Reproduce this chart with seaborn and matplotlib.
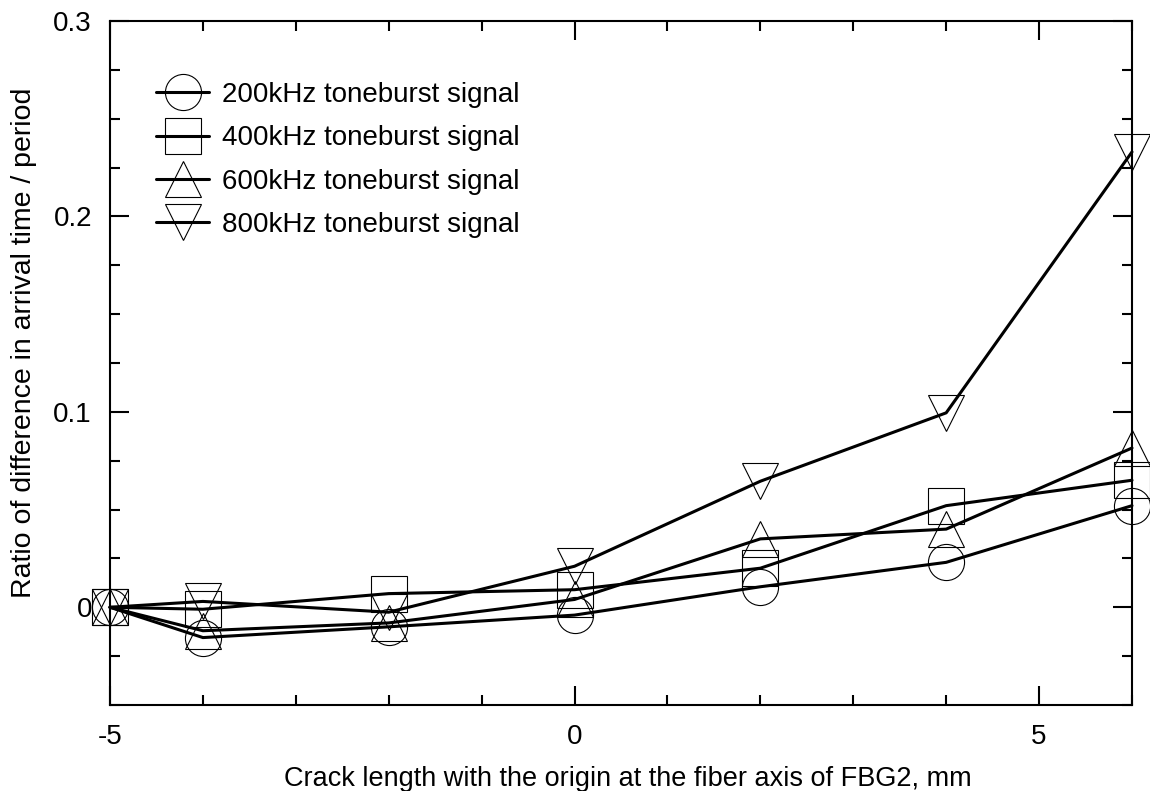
import matplotlib
matplotlib.use("Agg")
import matplotlib.pyplot as plt
import seaborn as sns
import numpy as np
from matplotlib.ticker import MultipleLocator, FuncFormatter

# ---- data ----
crack_mm = [-5, -4, -2, 0, 2, 4, 6]
r200 = [0, -0.0155, -0.010, -0.004, 0.0105, 0.023, 0.052]
r400 = [0, -0.001, 0.007, 0.009, 0.020, 0.052, 0.065]
r600 = [0, -0.012, -0.008, 0.004, 0.035, 0.040, 0.0815]
r800 = [0, 0.003, -0.0025, 0.021, 0.0645, 0.0995, 0.233]
labels = ["200kHz toneburst signal", "400kHz toneburst signal",
          "600kHz toneburst signal", "800kHz toneburst signal"]
series = [r200, r400, r600, r800]
markers = ["o", "s", "^", "v"]

sns.set_theme(style="white")
plt.rcParams["font.family"] = ["Liberation Sans", "DejaVu Sans"]
plt.rcParams["axes.unicode_minus"] = False

fig = plt.figure(figsize=(11.5, 7.91), dpi=100)
ax = fig.add_axes([110/1150, 1-705/791, (1132-110)/1150, (705-21)/791])

for ys, lab, mk in zip(series, labels, markers):
    sns.lineplot(x=crack_mm, y=ys, ax=ax, label=lab, color="black",
                 linewidth=2.2, marker=mk, markersize=26,
                 markerfacecolor="none", markeredgecolor="black",
                 markeredgewidth=0.8, clip_on=False)

ax.set_xlim(-5, 6)
ax.set_ylim(-0.05, 0.3)
ax.xaxis.set_major_locator(MultipleLocator(5))
ax.xaxis.set_minor_locator(MultipleLocator(1))
ax.yaxis.set_major_locator(MultipleLocator(0.1))
ax.yaxis.set_minor_locator(MultipleLocator(0.025))
ax.yaxis.set_major_formatter(FuncFormatter(lambda v, p: "%g" % round(v, 6)))
ax.xaxis.set_major_formatter(FuncFormatter(lambda v, p: "%g" % round(v, 6)))

for s in ax.spines.values():
    s.set_visible(True)
    s.set_color("black")
    s.set_linewidth(1.5)

ax.tick_params(which="both", direction="in", top=True, right=True,
               bottom=True, left=True, color="black", width=1.5,
               labelsize=20, labelcolor="black")
ax.tick_params(which="major", length=14, pad=14)
ax.tick_params(which="minor", length=7.5)
ax.tick_params(axis="y", which="major", pad=13)

ax.set_xlabel("Crack length with the origin at the fiber axis of FBG2, mm",
              fontsize=19.5, color="black")
ax.set_ylabel("Ratio of difference in arrival time / period",
              fontsize=20.5, color="black")
ax.xaxis.set_label_coords(0.507, -0.0896)
ax.yaxis.set_label_coords(-0.071, 0.529)

leg = ax.legend(loc="upper left", bbox_to_anchor=(0.045, 0.9106),
                frameon=False, fontsize=20, borderaxespad=0, borderpad=0,
                handlelength=1.92, handletextpad=0.47, labelspacing=0.62)
for t in leg.get_texts():
    t.set_color("black")

fig.savefig("out.png", dpi=100)
